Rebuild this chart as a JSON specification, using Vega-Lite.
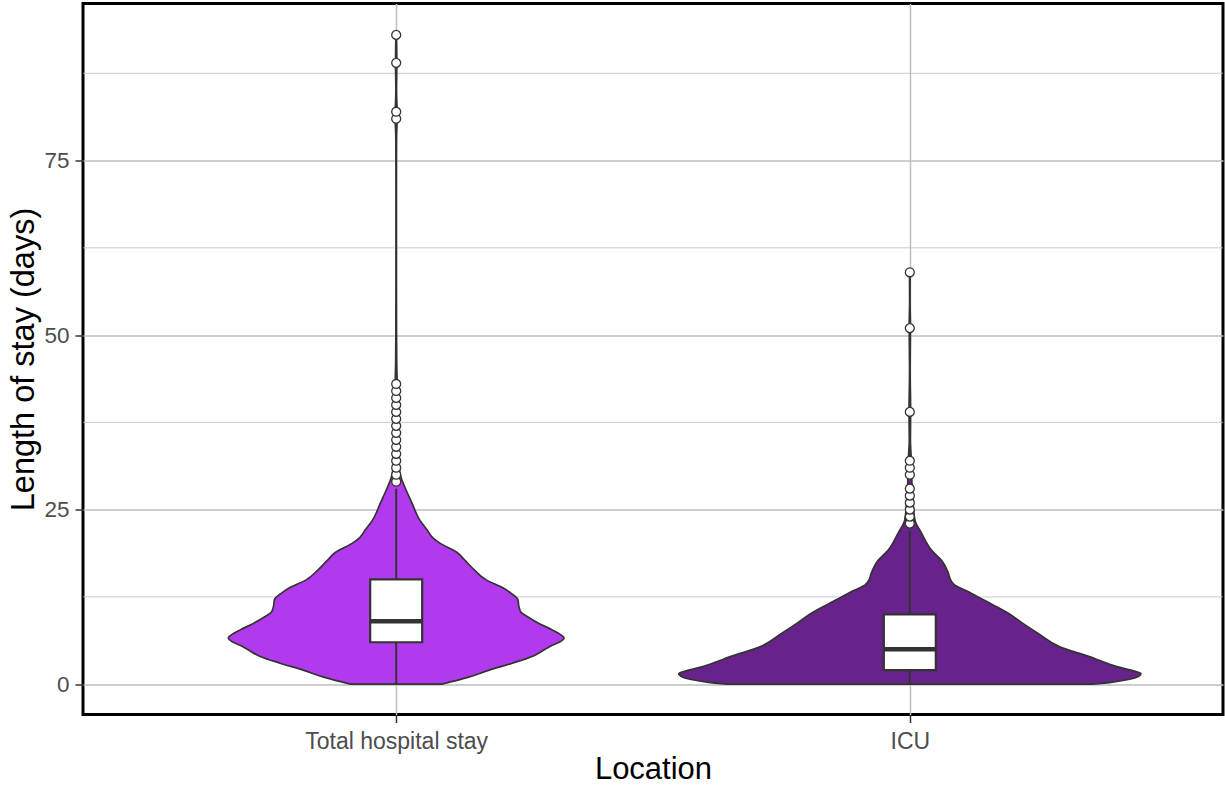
{
  "$schema": "https://vega.github.io/schema/vega-lite/v6.json",
  "width": 1140,
  "height": 711,
  "autosize": {"type": "none"},
  "padding": {"left": 83, "top": 3.5, "right": 2, "bottom": 72.5},
  "background": "white",
  "config": {"view": {"stroke": "#000000", "strokeWidth": 3}, "font": "Liberation Sans"},
  "datasets": {
    "minor": [{"g": 12.5}, {"g": 37.5}, {"g": 62.5}, {"g": 87.5}],
    "violin": [
      {"loc": "Total hospital stay", "los": 0, "lo": 0.911, "hi": 1.089},
      {"loc": "Total hospital stay", "los": 1, "lo": 0.859, "hi": 1.141},
      {"loc": "Total hospital stay", "los": 2, "lo": 0.819, "hi": 1.181},
      {"loc": "Total hospital stay", "los": 3, "lo": 0.774, "hi": 1.226},
      {"loc": "Total hospital stay", "los": 4, "lo": 0.734, "hi": 1.266},
      {"loc": "Total hospital stay", "los": 5, "lo": 0.71, "hi": 1.29},
      {"loc": "Total hospital stay", "los": 5.6, "lo": 0.695, "hi": 1.305},
      {"loc": "Total hospital stay", "los": 6.2, "lo": 0.678, "hi": 1.322},
      {"loc": "Total hospital stay", "los": 6.6, "lo": 0.673, "hi": 1.327},
      {"loc": "Total hospital stay", "los": 7.1, "lo": 0.68, "hi": 1.32},
      {"loc": "Total hospital stay", "los": 7.8, "lo": 0.697, "hi": 1.303},
      {"loc": "Total hospital stay", "los": 8.7, "lo": 0.722, "hi": 1.278},
      {"loc": "Total hospital stay", "los": 9.7, "lo": 0.745, "hi": 1.255},
      {"loc": "Total hospital stay", "los": 10.3, "lo": 0.757, "hi": 1.243},
      {"loc": "Total hospital stay", "los": 11.1, "lo": 0.761, "hi": 1.239},
      {"loc": "Total hospital stay", "los": 12.1, "lo": 0.763, "hi": 1.237},
      {"loc": "Total hospital stay", "los": 13, "lo": 0.776, "hi": 1.224},
      {"loc": "Total hospital stay", "los": 13.9, "lo": 0.795, "hi": 1.205},
      {"loc": "Total hospital stay", "los": 14.9, "lo": 0.824, "hi": 1.176},
      {"loc": "Total hospital stay", "los": 16.3, "lo": 0.847, "hi": 1.153},
      {"loc": "Total hospital stay", "los": 17.8, "lo": 0.867, "hi": 1.133},
      {"loc": "Total hospital stay", "los": 18.9, "lo": 0.882, "hi": 1.118},
      {"loc": "Total hospital stay", "los": 20.2, "lo": 0.915, "hi": 1.085},
      {"loc": "Total hospital stay", "los": 21, "lo": 0.929, "hi": 1.071},
      {"loc": "Total hospital stay", "los": 22.1, "lo": 0.94, "hi": 1.06},
      {"loc": "Total hospital stay", "los": 23.5, "lo": 0.954, "hi": 1.046},
      {"loc": "Total hospital stay", "los": 25.9, "lo": 0.969, "hi": 1.031},
      {"loc": "Total hospital stay", "los": 28.2, "lo": 0.983, "hi": 1.017},
      {"loc": "Total hospital stay", "los": 29.5, "lo": 0.99, "hi": 1.01},
      {"loc": "Total hospital stay", "los": 31, "lo": 0.994, "hi": 1.006},
      {"loc": "Total hospital stay", "los": 33, "lo": 0.995, "hi": 1.005},
      {"loc": "Total hospital stay", "los": 36, "lo": 0.996, "hi": 1.004},
      {"loc": "Total hospital stay", "los": 40, "lo": 0.997, "hi": 1.003},
      {"loc": "Total hospital stay", "los": 43, "lo": 0.998, "hi": 1.002},
      {"loc": "Total hospital stay", "los": 46, "lo": 0.999, "hi": 1.001},
      {"loc": "Total hospital stay", "los": 50, "lo": 0.9994, "hi": 1.0006},
      {"loc": "Total hospital stay", "los": 60, "lo": 0.9996, "hi": 1.0004},
      {"loc": "Total hospital stay", "los": 70, "lo": 0.9996, "hi": 1.0004},
      {"loc": "Total hospital stay", "los": 78, "lo": 0.9994, "hi": 1.0006},
      {"loc": "Total hospital stay", "los": 81.5, "lo": 0.998, "hi": 1.002},
      {"loc": "Total hospital stay", "los": 85, "lo": 0.9994, "hi": 1.0006},
      {"loc": "Total hospital stay", "los": 89, "lo": 0.9988, "hi": 1.0012},
      {"loc": "Total hospital stay", "los": 93, "lo": 0.9995, "hi": 1.0005},
      {"loc": "ICU", "los": 0, "lo": 1.645, "hi": 2.355},
      {"loc": "ICU", "los": 0.3, "lo": 1.605, "hi": 2.395},
      {"loc": "ICU", "los": 0.7, "lo": 1.572, "hi": 2.428},
      {"loc": "ICU", "los": 1.1, "lo": 1.555, "hi": 2.445},
      {"loc": "ICU", "los": 1.5, "lo": 1.55, "hi": 2.45},
      {"loc": "ICU", "los": 1.9, "lo": 1.565, "hi": 2.435},
      {"loc": "ICU", "los": 2.5, "lo": 1.597, "hi": 2.403},
      {"loc": "ICU", "los": 3.2, "lo": 1.624, "hi": 2.376},
      {"loc": "ICU", "los": 3.9, "lo": 1.649, "hi": 2.351},
      {"loc": "ICU", "los": 5.3, "lo": 1.707, "hi": 2.293},
      {"loc": "ICU", "los": 7.3, "lo": 1.751, "hi": 2.249},
      {"loc": "ICU", "los": 8.7, "lo": 1.78, "hi": 2.22},
      {"loc": "ICU", "los": 10.2, "lo": 1.809, "hi": 2.191},
      {"loc": "ICU", "los": 12, "lo": 1.855, "hi": 2.145},
      {"loc": "ICU", "los": 13.3, "lo": 1.888, "hi": 2.112},
      {"loc": "ICU", "los": 14.2, "lo": 1.913, "hi": 2.087},
      {"loc": "ICU", "los": 15, "lo": 1.921, "hi": 2.079},
      {"loc": "ICU", "los": 15.9, "lo": 1.925, "hi": 2.075},
      {"loc": "ICU", "los": 17.7, "lo": 1.938, "hi": 2.062},
      {"loc": "ICU", "los": 19.2, "lo": 1.958, "hi": 2.042},
      {"loc": "ICU", "los": 21.6, "lo": 1.977, "hi": 2.023},
      {"loc": "ICU", "los": 23.5, "lo": 1.99, "hi": 2.01},
      {"loc": "ICU", "los": 26.3, "lo": 1.994, "hi": 2.006},
      {"loc": "ICU", "los": 29, "lo": 1.996, "hi": 2.004},
      {"loc": "ICU", "los": 32, "lo": 1.997, "hi": 2.003},
      {"loc": "ICU", "los": 35, "lo": 1.999, "hi": 2.001},
      {"loc": "ICU", "los": 39, "lo": 1.9985, "hi": 2.0015},
      {"loc": "ICU", "los": 45, "lo": 1.9995, "hi": 2.0005},
      {"loc": "ICU", "los": 51, "lo": 1.9988, "hi": 2.0012},
      {"loc": "ICU", "los": 55, "lo": 1.9996, "hi": 2.0004},
      {"loc": "ICU", "los": 59, "lo": 1.9994, "hi": 2.0006}
    ],
    "box": [
      {"loc": "Total hospital stay", "pos": 1, "lower": 0, "q1": 6, "median": 9, "q3": 15, "upper": 28},
      {"loc": "ICU", "pos": 2, "lower": 0, "q1": 2, "median": 5, "q3": 10, "upper": 22}
    ],
    "outliers": [
      {"loc": "Total hospital stay", "pos": 1, "los": 29},
      {"loc": "Total hospital stay", "pos": 1, "los": 30},
      {"loc": "Total hospital stay", "pos": 1, "los": 31},
      {"loc": "Total hospital stay", "pos": 1, "los": 32},
      {"loc": "Total hospital stay", "pos": 1, "los": 33},
      {"loc": "Total hospital stay", "pos": 1, "los": 34},
      {"loc": "Total hospital stay", "pos": 1, "los": 35},
      {"loc": "Total hospital stay", "pos": 1, "los": 36},
      {"loc": "Total hospital stay", "pos": 1, "los": 37},
      {"loc": "Total hospital stay", "pos": 1, "los": 38},
      {"loc": "Total hospital stay", "pos": 1, "los": 39},
      {"loc": "Total hospital stay", "pos": 1, "los": 40},
      {"loc": "Total hospital stay", "pos": 1, "los": 41},
      {"loc": "Total hospital stay", "pos": 1, "los": 42},
      {"loc": "Total hospital stay", "pos": 1, "los": 43},
      {"loc": "Total hospital stay", "pos": 1, "los": 81},
      {"loc": "Total hospital stay", "pos": 1, "los": 82},
      {"loc": "Total hospital stay", "pos": 1, "los": 89},
      {"loc": "Total hospital stay", "pos": 1, "los": 93},
      {"loc": "ICU", "pos": 2, "los": 23},
      {"loc": "ICU", "pos": 2, "los": 24},
      {"loc": "ICU", "pos": 2, "los": 25},
      {"loc": "ICU", "pos": 2, "los": 26},
      {"loc": "ICU", "pos": 2, "los": 27},
      {"loc": "ICU", "pos": 2, "los": 28},
      {"loc": "ICU", "pos": 2, "los": 30},
      {"loc": "ICU", "pos": 2, "los": 31},
      {"loc": "ICU", "pos": 2, "los": 32},
      {"loc": "ICU", "pos": 2, "los": 39},
      {"loc": "ICU", "pos": 2, "los": 51},
      {"loc": "ICU", "pos": 2, "los": 59}
    ]
  },
  "layer": [
    {
      "data": {"name": "minor"},
      "mark": {"type": "rule", "color": "#BEBEBE", "strokeWidth": 0.8},
      "encoding": {
        "y": {
          "field": "g", "type": "quantitative",
          "scale": {"domain": [-4.35, 97.5], "nice": false, "zero": false},
          "axis": {
            "values": [0, 25, 50, 75], "title": "Length of stay (days)",
            "grid": true, "gridColor": "#BEBEBE", "gridWidth": 1.5,
            "domain": false, "ticks": true, "tickSize": 8, "tickColor": "#333333", "tickWidth": 1.5,
            "labelFontSize": 22.5, "labelColor": "#4D4D4D", "labelPadding": 6, "labelFont": "Liberation Sans",
            "titleFontSize": 32.5, "titleColor": "#000000", "titleFontWeight": "normal", "titleFont": "Liberation Sans", "titlePadding": 3
          }
        }
      }
    },
    {
      "data": {"name": "violin"},
      "mark": {"type": "area", "orient": "horizontal", "stroke": "#333333", "strokeWidth": 1.7, "opacity": 1, "interpolate": "monotone"},
      "encoding": {
        "y": {"field": "los", "type": "quantitative"},
        "x": {
          "field": "lo", "type": "quantitative",
          "scale": {"domain": [0.4, 2.6], "nice": false, "zero": false},
          "axis": {
            "values": [1, 2], "labelExpr": "datum.value == 1 ? 'Total hospital stay' : 'ICU'", "title": "Location",
            "grid": true, "gridColor": "#BEBEBE", "gridWidth": 1.5,
            "domain": false, "ticks": true, "tickSize": 8, "tickColor": "#333333", "tickWidth": 1.5,
            "labelFontSize": 23, "labelColor": "#4D4D4D", "labelPadding": 8, "labelFont": "Liberation Sans", "labelLimit": 0,
            "titleFontSize": 31, "titleColor": "#000000", "titleFontWeight": "normal", "titleFont": "Liberation Sans", "titlePadding": 1
          }
        },
        "x2": {"field": "hi"},
        "fill": {"field": "loc", "type": "nominal", "scale": {"domain": ["Total hospital stay", "ICU"], "range": ["#B23AEE", "#68228B"]}, "legend": null}
      }
    },
    {
      "data": {"name": "box"},
      "mark": {"type": "rule", "color": "#333333", "strokeWidth": 2},
      "encoding": {
        "x": {"field": "pos", "type": "quantitative"},
        "y": {"field": "lower", "type": "quantitative"},
        "y2": {"field": "q1"}
      }
    },
    {
      "data": {"name": "box"},
      "mark": {"type": "rule", "color": "#333333", "strokeWidth": 2},
      "encoding": {
        "x": {"field": "pos", "type": "quantitative"},
        "y": {"field": "q3", "type": "quantitative"},
        "y2": {"field": "upper"}
      }
    },
    {
      "data": {"name": "box"},
      "mark": {"type": "bar", "width": 52, "fill": "#FFFFFF", "stroke": "#333333", "strokeWidth": 2.2, "opacity": 1},
      "encoding": {
        "x": {"field": "pos", "type": "quantitative"},
        "y": {"field": "q1", "type": "quantitative"},
        "y2": {"field": "q3"}
      }
    },
    {
      "data": {"name": "box"},
      "mark": {"type": "tick", "orient": "horizontal", "size": 52, "thickness": 4.5, "color": "#333333", "opacity": 1},
      "encoding": {
        "x": {"field": "pos", "type": "quantitative"},
        "y": {"field": "median", "type": "quantitative"}
      }
    },
    {
      "data": {"name": "outliers"},
      "mark": {"type": "circle", "size": 80, "fill": "#FFFFFF", "stroke": "#333333", "strokeWidth": 1.3, "opacity": 1},
      "encoding": {
        "x": {"field": "pos", "type": "quantitative"},
        "y": {"field": "los", "type": "quantitative"}
      }
    }
  ]
}
